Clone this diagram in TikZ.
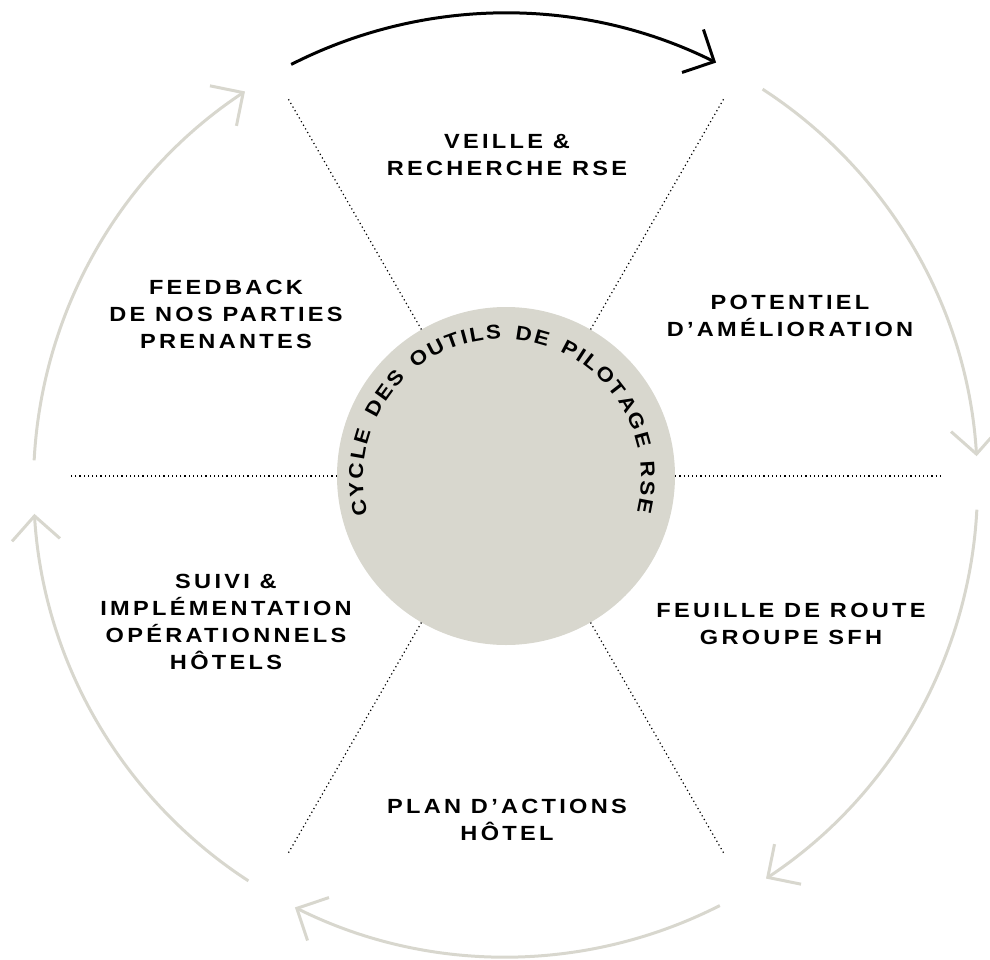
\documentclass[tikz,border=0pt]{standalone}
\usepackage{fontspec}
\setmainfont{Liberation Sans}
\newfontfamily\sfhlabelfamily[LetterSpace=16, FakeStretch=1.15]{Liberation Sans}
\newfontfamily\sfhcurvefamily[FakeStretch=1.12, WordSpace=1.5]{Liberation Sans}
\usetikzlibrary{arrows.meta,decorations.text,calc}
\definecolor{sfhgris}{RGB}{216,215,206}
\newcommand{\sfhcurvefont}{\sfhcurvefamily\bfseries\fontsize{20}{20}\selectfont}
\tikzset{
  sfh label/.style={align=center, inner sep=0pt, text=black, font=\sfhlabelfamily\bfseries\fontsize{20.5}{27}\selectfont},
  sfh spoke/.style={black, line width=1.2pt, dash pattern=on 1.2pt off 3pt},
  sfh arc/.style={sfhgris, line width=3pt, -{Straight Barb[length=24pt, width=48pt]}}
}
\begin{document}
\begin{tikzpicture}[x=1pt, y=1pt]
    \useasboundingbox (-506,-483) rectangle (484,476);
    % cercle central
    \node [circle, fill=sfhgris, minimum size=338pt, inner sep=0pt] (pilotage) at (0,0) {};
    % rayons
    \foreach \a in {0,60,...,300} {
        \coordinate (s\a) at (\a:435);
        \draw [sfh spoke] (pilotage) -- (s\a);
    }
    % texte courbe
    \path [shift={(-4,-2)}, decorate, decoration={text along path, text align={fit to path},
        text={|\sfhcurvefont|CYCLE DES OUTILS DE PILOTAGE RSE}}]
        (195:139) arc [start angle=195, delta angle=-209, radius=139];
    % fleches du cycle
    \coordinate (o) at (-0.5,-9);
    \draw [sfh arc, black] ($(o)+(117:472)$) arc [start angle=117, delta angle=-53.5, radius=472];
    \foreach \s in {57,-3,-63,-123,-183}
        \draw [sfh arc] ($(o)+(\s:472)$) arc [start angle=\s, delta angle=-53.5, radius=472];
    % etapes
    \node [sfh label] (veille) at (1,320.5) {VEILLE \&\\RECHERCHE RSE};
    \node [sfh label] (potentiel) at (284,160.5) {POTENTIEL\\D’AMÉLIORATION};
    \node [sfh label] (feuille) at (285,-147.5) {FEUILLE DE ROUTE\\GROUPE SFH};
    \node [sfh label] (plan) at (1,-344) {PLAN D’ACTIONS\\HÔTEL};
    \node [sfh label] (suivi) at (-280,-145.5) {SUIVI \&\\IMPLÉMENTATION\\OPÉRATIONNELS\\HÔTELS};
    \node [sfh label] (feedback) at (-280,162) {FEEDBACK\\DE NOS PARTIES\\PRENANTES};
\end{tikzpicture}
\end{document}
